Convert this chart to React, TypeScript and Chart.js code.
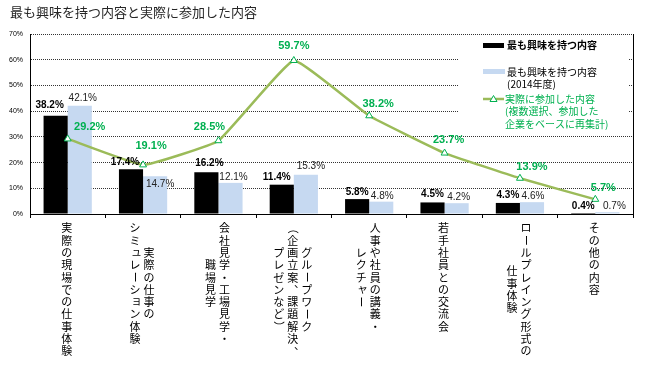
import React, { useEffect, useRef } from 'react';
import { Chart, registerables } from 'chart.js';

Chart.register(...registerables);

// ---------- data ----------
const TITLE = '最も興味を持つ内容と実際に参加した内容';

// each category label: vertical columns, read right-to-left
const CATEGORY_COLUMNS: string[][] = [
  ['実際の現場での仕事体験'],
  ['実際の仕事の', 'シミュレーション体験'],
  ['会社見学・工場見学・', '職場見学'],
  ['グループワーク', '（企画立案、課題解決、', 'プレゼンなど）'],
  ['人事や社員の講義・', 'レクチャー'],
  ['若手社員との交流会'],
  ['ロールプレイング形式の', '仕事体験'],
  ['その他の内容'],
];
const CATEGORIES = CATEGORY_COLUMNS.map((c) => c.join(''));

const INTEREST = [38.2, 17.4, 16.2, 11.4, 5.8, 4.5, 4.3, 0.4];
const INTEREST_2014 = [42.1, 14.7, 12.1, 15.3, 4.8, 4.2, 4.6, 0.7];
const PARTICIPATED = [29.2, 19.1, 28.5, 59.7, 38.2, 23.7, 13.9, 5.7];

const Y_MIN = 0;
const Y_MAX = 70;
const Y_STEP = 10;

const LEGEND_INTEREST = ['最も興味を持つ内容'];
const LEGEND_INTEREST_2014 = ['最も興味を持つ内容', '(2014年度)'];
const LEGEND_PARTICIPATED = ['実際に参加した内容', '(複数選択、参加した', '企業をベースに再集計)'];

// ---------- style ----------
const CJK = '"Noto Sans CJK JP", "Noto Sans", sans-serif';
const LAT = '"Liberation Sans", Arial, sans-serif';
const BLACK = '#000000';
const BLUE = '#C6D9F1';
const OLIVE = '#9BBB59';
const GREEN = '#00B050';

// label offsets (px) relative to the mark
const BLACK_DX = [-6, -6, 3, -5, 0, 0, 0, 0];
const BLACK_DY = [-11, -7, -9, -7, -7, -8, -8, -7];
const BLUE_DX = [3, 5, 3, 5, 1, 2, 1, 7];
const BLUE_DY = [-7, 8, -6, -8, -5, -6, -6, -6];
const GREEN_DX = [22, 8, -9, 0, 9, 4, 12, 8];
const GREEN_DY = [-12, -19, -14, -15, -12, -13, -11, -11];

const ROTATE = new Set(['ー', '（', '）', '(', ')', '－', '〜']);
const SMALL = new Set('ァィゥェォャュョッぁぃぅぇぉゃゅょっ'.split(''));
const COMMA = new Set(['、', '。']);

function drawVertical(ctx: CanvasRenderingContext2D, text: string, x: number, yTop: number, size: number, step: number) {
  Array.from(text).forEach((ch, i) => {
    const cy = yTop + step * (i + 0.5);
    ctx.save();
    ctx.translate(x, cy);
    if (ROTATE.has(ch)) ctx.rotate(Math.PI / 2);
    else if (COMMA.has(ch)) ctx.translate(size * 0.6, -size * 0.6);
    else if (SMALL.has(ch)) ctx.translate(size * 0.12, -size * 0.12);
    ctx.fillText(ch, 0, 0);
    ctx.restore();
  });
}

const fmt = (v: number) => v.toFixed(1) + '%';

const decorPlugin = {
  id: 'decor',
  beforeDatasetsDraw(chart: any) {
    const ctx: CanvasRenderingContext2D = chart.ctx;
    const ca = chart.chartArea;
    ctx.save();
    // right border
    ctx.strokeStyle = '#000';
    ctx.lineWidth = 1;
    ctx.beginPath();
    ctx.moveTo(ca.right + 0.5, ca.top);
    ctx.lineTo(ca.right + 0.5, ca.bottom);
    ctx.stroke();

    // legend box (white background over gridlines)
    const lx = ca.right - 174;
    ctx.fillStyle = '#fff';
    ctx.fillRect(lx, ca.top + 2, 170, 96);

    const sx = ca.right - 150; // swatch start
    const tx = sx + 24;
    ctx.textAlign = 'left';
    ctx.textBaseline = 'middle';

    // item 1
    ctx.fillStyle = BLACK;
    ctx.fillRect(sx, ca.top + 9, 21, 5);
    ctx.font = `bold 10px ${CJK}`;
    LEGEND_INTEREST.forEach((t, i) => ctx.fillText(t, tx, ca.top + 11 + i * 12));

    // item 2
    ctx.fillStyle = BLUE;
    ctx.fillRect(sx, ca.top + 35, 22, 5);
    ctx.fillStyle = '#000';
    ctx.font = `10px ${CJK}`;
    LEGEND_INTEREST_2014.forEach((t, i) => ctx.fillText(t, tx, ca.top + 38 + i * 12));

    // item 3
    const ly = ca.top + 65;
    ctx.strokeStyle = OLIVE;
    ctx.lineWidth = 2.5;
    ctx.beginPath();
    ctx.moveTo(sx, ly);
    ctx.lineTo(sx + 21, ly);
    ctx.stroke();
    ctx.fillStyle = '#fff';
    ctx.strokeStyle = GREEN;
    ctx.lineWidth = 1;
    ctx.beginPath();
    ctx.moveTo(sx + 10.5, ly - 3.5);
    ctx.lineTo(sx + 14, ly + 2.5);
    ctx.lineTo(sx + 7, ly + 2.5);
    ctx.closePath();
    ctx.fill();
    ctx.stroke();
    ctx.fillStyle = GREEN;
    ctx.font = `10px ${CJK}`;
    LEGEND_PARTICIPATED.forEach((t, i) => ctx.fillText(t, tx - 2, ly + i * 12.5));
    ctx.restore();
  },
  afterDatasetsDraw(chart: any) {
    const ctx: CanvasRenderingContext2D = chart.ctx;
    ctx.save();
    ctx.textAlign = 'center';
    ctx.textBaseline = 'middle';
    const m0 = chart.getDatasetMeta(0);
    const m1 = chart.getDatasetMeta(1);
    const m2 = chart.getDatasetMeta(2);
    ctx.font = `bold 10px ${LAT}`;
    ctx.fillStyle = '#000';
    m0.data.forEach((el: any, i: number) => ctx.fillText(fmt(INTEREST[i]), el.x + BLACK_DX[i], el.y + BLACK_DY[i]));
    ctx.font = `10px ${LAT}`;
    ctx.fillStyle = '#222';
    m1.data.forEach((el: any, i: number) => ctx.fillText(fmt(INTEREST_2014[i]), el.x + BLUE_DX[i], el.y + BLUE_DY[i]));
    ctx.font = `bold 11px ${LAT}`;
    ctx.fillStyle = GREEN;
    m2.data.forEach((el: any, i: number) => ctx.fillText(fmt(PARTICIPATED[i]), el.x + GREEN_DX[i], el.y + GREEN_DY[i]));
    ctx.restore();
  },
  afterDraw(chart: any) {
    const ctx: CanvasRenderingContext2D = chart.ctx;
    const ca = chart.chartArea;
    const xs = chart.scales.x;
    ctx.save();
    // title
    ctx.font = `13px ${CJK}`;
    ctx.fillStyle = '#262626';
    ctx.textAlign = 'left';
    ctx.textBaseline = 'middle';
    ctx.fillText(TITLE, 10, 12);

    // vertical category labels
    const size = 11;
    const step = 12.3;
    const colGap = 14;
    ctx.font = `${size}px ${CJK}`;
    ctx.fillStyle = '#000';
    ctx.textAlign = 'center';
    ctx.textBaseline = 'middle';
    const top = ca.bottom + 8;
    CATEGORY_COLUMNS.forEach((cols, i) => {
      const cx = xs.getPixelForValue(i) - 1;
      const n = cols.length;
      const maxLen = Math.max(...cols.map((c) => Array.from(c).length));
      cols.forEach((col, j) => {
        const x = cx + ((n - 1) / 2 - j) * colGap;
        const len = Array.from(col).length;
        const y0 = top + ((maxLen - len) * step) / 2;
        drawVertical(ctx, col, x, y0, size, step);
      });
    });
    ctx.restore();
  },
};

export default function App() {
  const ref = useRef<HTMLCanvasElement | null>(null);
  useEffect(() => {
    document.body.style.margin = '0';
    const canvas = ref.current;
    if (!canvas) return;
    const chart = new Chart(canvas, {
      type: 'bar',
      data: {
        labels: CATEGORIES,
        datasets: [
          {
            type: 'bar',
            label: LEGEND_INTEREST.join(''),
            data: INTEREST,
            backgroundColor: BLACK,
            borderWidth: 0,
            order: 1,
            categoryPercentage: 0.64,
            barPercentage: 1.0,
          },
          {
            type: 'bar',
            label: LEGEND_INTEREST_2014.join(''),
            data: INTEREST_2014,
            backgroundColor: BLUE,
            borderWidth: 0,
            order: 1,
            categoryPercentage: 0.64,
            barPercentage: 1.0,
          },
          {
            type: 'line',
            label: LEGEND_PARTICIPATED.join(''),
            data: PARTICIPATED,
            borderColor: OLIVE,
            borderWidth: 2.5,
            tension: 0.1,
            pointStyle: 'triangle',
            pointRadius: 4,
            pointBackgroundColor: '#fff',
            pointBorderColor: GREEN,
            pointBorderWidth: 1,
            order: 0,
          } as any,
        ],
      },
      options: {
        responsive: false,
        animation: false,
        layout: { padding: { top: 34, right: 17, left: 0, bottom: 0 } },
        plugins: {
          legend: { display: false },
          tooltip: { enabled: false },
          title: { display: false },
        },
        scales: {
          x: {
            offset: true,
            grid: {
              display: true,
              offset: true,
              drawOnChartArea: false,
              drawTicks: true,
              tickLength: 4,
              color: '#000',
            },
            border: { display: true, color: '#000', width: 1 },
            ticks: { display: false },
            afterFit: (s: any) => {
              s.height = 161;
            },
          },
          y: {
            min: Y_MIN,
            max: Y_MAX,
            ticks: {
              stepSize: Y_STEP,
              padding: 7,
              color: '#000',
              font: { family: LAT, size: 7 },
              callback: (v: any) => v + '%',
            },
            grid: {
              drawTicks: false,
              color: (c: any) => (c.tick && c.tick.value === 0 ? 'rgba(0,0,0,0)' : '#333'),
              lineWidth: 1,
            },
            border: { display: true, color: '#000', width: 1, dash: [1, 1] } as any,
            afterFit: (s: any) => {
              s.width = 30;
            },
          },
        },
      },
      plugins: [decorPlugin],
    });
    return () => chart.destroy();
  }, []);
  return <canvas ref={ref} width={650} height={375} style={{ display: 'block' }} />;
}
